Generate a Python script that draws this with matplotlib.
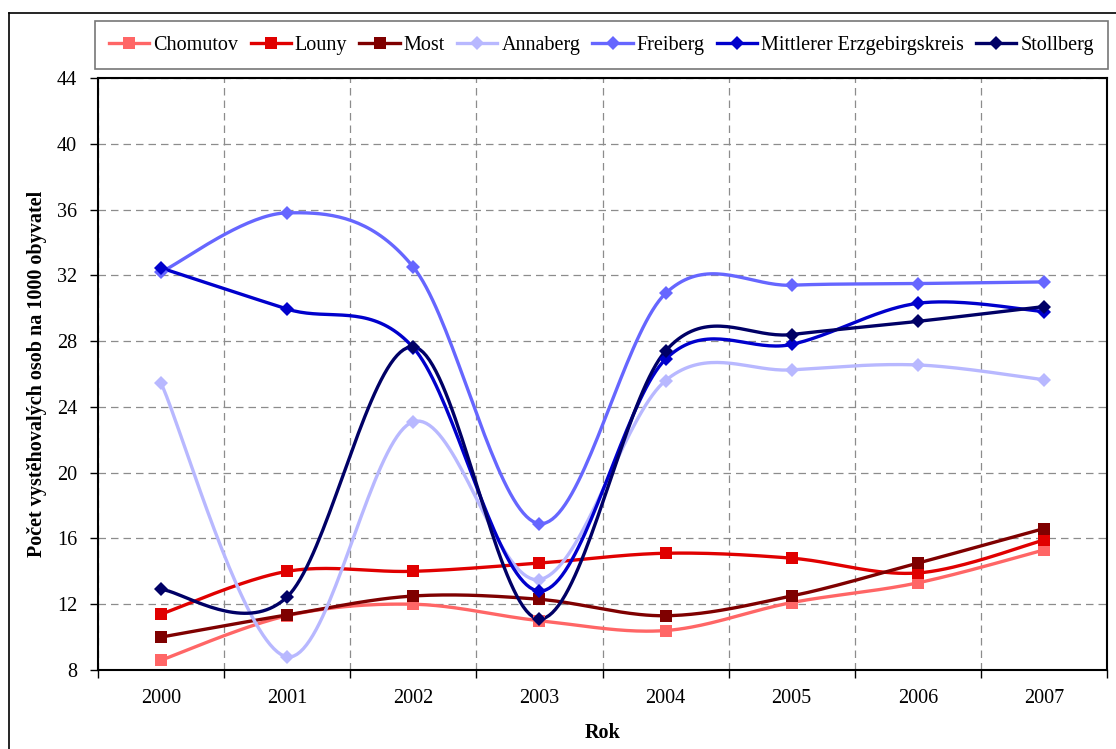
import numpy as np
import matplotlib
matplotlib.use("Agg")
import matplotlib.pyplot as plt
from matplotlib.lines import Line2D

plt.rcParams['font.family'] = ['Liberation Serif', 'DejaVu Serif']

# data
years = ['2000', '2001', '2002', '2003', '2004', '2005', '2006', '2007']
chomutov = [8.6, 11.3, 12.0, 11.0, 10.4, 12.1, 13.3, 15.3]
louny = [11.4, 14.0, 14.0, 14.5, 15.1, 14.8, 13.9, 15.9]
most = [10.0, 11.35, 12.5, 12.3, 11.3, 12.5, 14.5, 16.6]
annaberg = [25.45, 8.8, 23.1, 13.5, 25.6, 26.25, 26.55, 25.65]
freiberg = [32.2, 35.8, 32.5, 16.9, 30.9, 31.4, 31.5, 31.6]
mittlerer = [32.45, 29.95, 27.6, 12.8, 26.9, 27.8, 30.3, 29.8]
stollberg = [12.9, 12.45, 27.65, 11.1, 27.4, 28.4, 29.2, 30.1]

series = [
    ('Chomutov', chomutov, '#FF6666', 's'),
    ('Louny', louny, '#E00000', 's'),
    ('Most', most, '#7F0000', 's'),
    ('Annaberg', annaberg, '#B8B8FF', 'D'),
    ('Freiberg', freiberg, '#6666FF', 'D'),
    ('Mittlerer Erzgebirgskreis', mittlerer, '#0000CC', 'D'),
    ('Stollberg', stollberg, '#000066', 'D'),
]


def smooth(x, y, n=40):
    # Excel-like smoothed line: Catmull-Rom style bezier segments
    x = np.asarray(x, float)
    y = np.asarray(y, float)
    pts = np.column_stack([x, y])
    out = []
    t = np.linspace(0, 1, n)[:, None]
    for i in range(len(pts) - 1):
        p0 = pts[i - 1] if i > 0 else pts[i]
        p1 = pts[i]
        p2 = pts[i + 1]
        p3 = pts[i + 2] if i + 2 < len(pts) else pts[i + 1]
        c1 = p1 + (p2 - p0) / 6.0
        c2 = p2 - (p3 - p1) / 6.0
        seg = ((1 - t) ** 3) * p1 + 3 * ((1 - t) ** 2) * t * c1 + 3 * (1 - t) * t ** 2 * c2 + t ** 3 * p2
        out.append(seg if i == 0 else seg[1:])
    out = np.vstack(out)
    return out[:, 0], out[:, 1]


fig = plt.figure(figsize=(11.16, 7.49), dpi=100)
ax = fig.add_axes([98 / 1116, 79 / 749, 1009 / 1116, 592 / 749])

xs = np.arange(len(years))
handles = []
for name, vals, color, mk in series:
    sx, sy = smooth(xs, vals)
    ax.plot(sx, sy, color=color, lw=2.4, zorder=3, solid_capstyle='round')
    ms = 8.5 if mk == 's' else 7.5
    ax.plot(xs, vals, linestyle='none', marker=mk, color=color, ms=ms,
            markeredgewidth=0, zorder=4)
    handles.append(Line2D([], [], color=color, lw=2.4, marker=mk, ms=ms,
                          markeredgewidth=0, label=name))

ax.set_xlim(-0.5, len(years) - 0.5)
ax.set_ylim(8, 44)
ax.set_yticks(np.arange(8, 45, 4))
ax.set_xticks(np.arange(-0.5, len(years), 1.0))
ax.set_xticklabels([])
ax.set_xticks(xs, minor=True)
ax.set_xticklabels(years, minor=True)
ax.tick_params(axis='x', which='major', direction='out', length=6, width=1)
ax.tick_params(axis='x', which='minor', length=0, pad=14, labelsize=14.5)
ax.tick_params(axis='y', direction='out', length=6, width=1, pad=9, labelsize=14.5)

ax.grid(True, which='major', color='#8C8C8C', linestyle=(0, (6, 4)), lw=0.9)
for s in ax.spines.values():
    s.set_linewidth(1.5)
    s.set_color('black')

ax.set_ylabel('Počet vystěhovalých osob na 1000 obyvatel', fontsize=14.5, fontweight='bold')
ax.yaxis.set_label_coords(-0.051, 0.5)
ax.set_xlabel('Rok', fontsize=14.5, fontweight='bold')
ax.xaxis.set_label_coords(0.5, -0.09)

leg = fig.legend(handles=handles, loc='center', ncol=7,
                 bbox_to_anchor=((94 + 1109) / 2 / 1116, 1 - 45 / 749),
                 fontsize=14.5, frameon=True, fancybox=False,
                 handlelength=2.0, handletextpad=0.2, columnspacing=0.6,
                 borderpad=0.7, borderaxespad=0)
leg.get_frame().set_edgecolor('#555555')
leg.get_frame().set_linewidth(1.2)

# outer chart border
fig.add_artist(Line2D([9 / 1116, 9 / 1116], [0, 1 - 13 / 749], color='black', lw=1.2,
                      transform=fig.transFigure))
fig.add_artist(Line2D([9 / 1116, 1], [1 - 13 / 749, 1 - 13 / 749], color='black', lw=1.2,
                      transform=fig.transFigure))

fig.savefig('out.png', dpi=100)
